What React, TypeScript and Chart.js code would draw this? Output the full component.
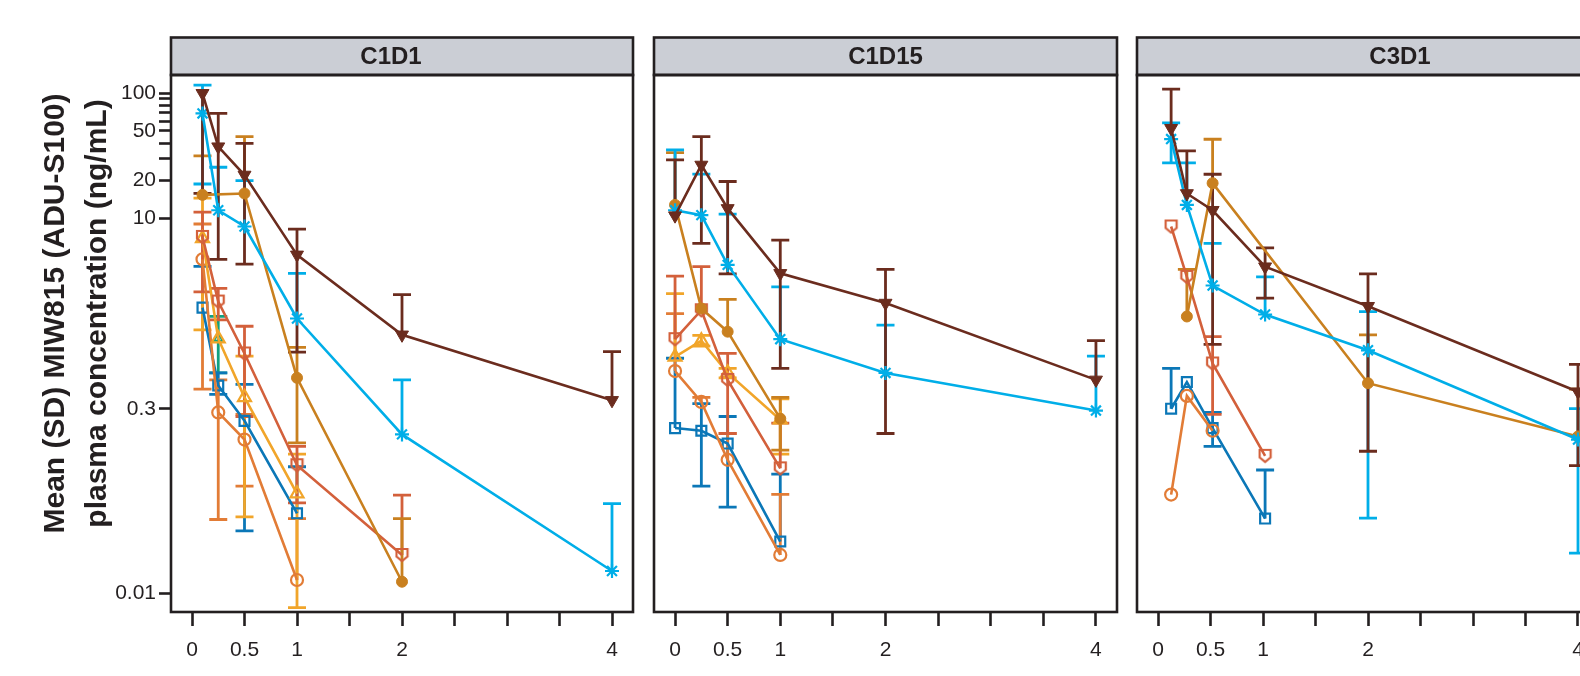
import React, { useEffect, useRef } from 'react';
import { Chart, registerables } from 'chart.js';

Chart.register(...registerables);

type Err = [number | null, number | null] | null;

// ---------- axis data ----------
const X_TICKS = [0, 0.5, 1, 1.5, 2, 2.5, 3, 3.5, 4];
const X_LABELS = ['0', '0.5', '1', '', '2', '', '', '', '4'];
const Y_TICKS = [0.01, 0.3, 10, 20, 30, 40, 50, 60, 70, 80, 90, 100];
const Y_LABELS = ['0.01', '0.3', '10', '20', '', '', '50', '', '', '', '', '100'];
const Y_MIN = 0.0071;
const Y_MAX = 140;
const X_MIN = -0.2;
const X_MAX = 4.2;
const PANEL_TITLES = ['C1D1', 'C1D15', 'C3D1'];
const Y_TITLE = ['Mean (SD) MIW815 (ADU-S100)', 'plasma concentration (ng/mL)'];

// ---------- C1D1 ----------
const TIMES_C1D1 = [0.1, 0.25, 0.5, 1, 2, 4];
const C1D1_BROWN = [100, 37.4, 22.2, 5.1, 1.17, 0.35];
const C1D1_BROWN_ERR: Err[] = [[15.8, null], [4.7, 69], [4.3, 39.8], [0.85, 8.2], [null, 2.45], [null, 0.86]];
const C1D1_CYAN = [69, 11.6, 8.6, 1.58, 0.187, 0.0151];
const C1D1_CYAN_ERR: Err[] = [[18.8, 116], [null, 25.6], [null, 20], [null, 3.63], [null, 0.51], [null, 0.0522]];
const C1D1_OCHRE = [15.4, null, 15.8, 0.53, 0.0124, null];
const C1D1_OCHRE_ERR: Err[] = [[null, 31.6], null, [null, 45], [0.16, 0.93], [null, 0.0397], null];
const C1D1_RUST = [7.1, 2.16, 0.83, 0.106, 0.0203, null];
const C1D1_RUST_ERR: Err[] = [[2.58, 11.2], [1.54, 2.75], [0.26, 1.37], [0.053, 0.15], [null, 0.061], null];
const C1D1_ORANGE = [4.7, 0.28, 0.17, 0.0128, null, null];
const C1D1_ORANGE_ERR: Err[] = [[0.43, 9.0], [0.039, 0.51], [0.072, 0.27], [null, 0.0397], null, null];
const C1D1_YELLOW = [6.9, 1.09, 0.37, 0.0627, null, null];
const C1D1_YELLOW_ERR: Err[] = [[1.28, 14.5], null, [0.041, 0.79], [0.0077, 0.13], null, null];
const C1D1_BLUE = [1.93, 0.46, 0.24, 0.0437, null, null];
const C1D1_BLUE_ERR: Err[] = [[null, 4.13], [0.39, 0.58], [0.0316, 0.47], [null, 0.103], null, null];
const C1D1_GREEN = [null, 1.1, null, null, null, null];
const C1D1_GREEN_ERR: Err[] = [null, [0.58, 1.64], null, null, null, null];

// ---------- C1D15 ----------
const TIMES_C1D15 = [0, 0.25, 0.5, 1, 2, 4];
const C1D15_BROWN = [10.5, 26.7, 12.0, 3.63, 2.1, 0.51];
const C1D15_BROWN_ERR: Err[] = [[null, 29.3], [6.3, 45], [3.6, 19.7], [0.63, 6.7], [0.19, 3.9], [null, 1.05]];
const C1D15_CYAN = [11.6, 10.6, 4.24, 1.08, 0.58, 0.29];
const C1D15_CYAN_ERR: Err[] = [[null, 35.2], [null, 22.6], [null, 10.8], [null, 2.83], [null, 1.4], [null, 0.79]];
const C1D15_OCHRE = [12.8, 1.9, 1.24, 0.25, null, null];
const C1D15_OCHRE_ERR: Err[] = [[null, 33.5], null, [null, 2.25], [0.14, 0.37], null, null];
const C1D15_RUST = [1.08, 1.84, 0.51, 0.1, null, null];
const C1D15_RUST_ERR: Err[] = [[null, 3.45], [null, 4.1], [0.19, 0.83], [null, 0.23], null, null];
const C1D15_YELLOW = [0.78, 1.05, 0.58, 0.245, null, null];
const C1D15_YELLOW_ERR: Err[] = [[null, 2.5], [0.95, 1.16], [0.53, 0.63], [0.13, 0.36], null, null];
const C1D15_ORANGE = [0.6, 0.34, 0.117, 0.0203, null, null];
const C1D15_ORANGE_ERR: Err[] = [[null, 1.73], [null, 0.37], [null, 0.19], [null, 0.062], null, null];
const C1D15_BLUE = [0.21, 0.2, 0.158, 0.026, null, null];
const C1D15_BLUE_ERR: Err[] = [[null, 0.76], [0.072, 0.33], [0.049, 0.26], [null, 0.09], null, null];

// ---------- C3D1 ----------
const TIMES_C3D1 = [0.125, 0.275, 0.52, 1.02, 2, 4];
const C3D1_BROWN = [52.5, 15.8, 11.6, 4.1, 1.98, 0.41];
const C3D1_BROWN_ERR: Err[] = [[null, 108], [null, 34.6], [0.98, 22.5], [2.3, 5.8], [0.137, 3.6], [0.105, 0.68]];
const C3D1_CYAN = [43, 12.8, 2.9, 1.7, 0.88, 0.17];
const C3D1_CYAN_ERR: Err[] = [[27.8, 58], [null, 27.8], [null, 6.3], [null, 3.4], [0.04, 1.79], [0.021, 0.3]];
const C3D1_OCHRE = [null, 1.64, 19.1, null, 0.48, 0.18];
const C3D1_OCHRE_ERR: Err[] = [null, [null, 3.9], [null, 42.9], null, [null, 1.17], [null, 0.43]];
const C3D1_RUST = [8.6, 3.4, 0.69, 0.126, null, null];
const C3D1_RUST_ERR: Err[] = [null, null, [0.27, 1.13], null, null, null];
const C3D1_BLUE = [0.3, 0.49, 0.21, 0.0397, null, null];
const C3D1_BLUE_ERR: Err[] = [[null, 0.63], null, [0.15, 0.28], [null, 0.097], null, null];
const C3D1_ORANGE = [0.0617, 0.38, 0.2, null, null, null];
const C3D1_ORANGE_ERR: Err[] = [null, null, null, null, null, null];

// ---------- styles ----------
const INK = '#231f20';
const FONT = '"Liberation Sans", Arial, Helvetica, sans-serif';
const C_BROWN = '#6b2c1e';
const C_CYAN = '#00aee8';
const C_OCHRE = '#c9801f';
const C_RUST = '#d3603b';
const C_ORANGE = '#e27c36';
const C_YELLOW = '#f1a52a';
const C_BLUE = '#0b77b7';
const C_GREEN = '#11a07f';

function makeShield(color: string): HTMLCanvasElement {
  const c = document.createElement('canvas');
  c.width = 15;
  c.height = 16;
  const g = c.getContext('2d')!;
  g.strokeStyle = color;
  g.lineWidth = 2.2;
  g.lineJoin = 'miter';
  g.beginPath();
  g.moveTo(2, 2);
  g.lineTo(13, 2);
  g.lineTo(13, 9.5);
  g.lineTo(7.5, 14);
  g.lineTo(2, 9.5);
  g.closePath();
  g.stroke();
  return c;
}

type Kind = 'brown' | 'cyan' | 'ochre' | 'rust' | 'yellow' | 'orange' | 'blue' | 'green';

function styleFor(kind: Kind): any {
  switch (kind) {
    case 'brown':
      return { color: C_BROWN, pointStyle: 'triangle', pointRotation: 180, radius: 7.5, fill: C_BROWN, bw: 1 };
    case 'cyan':
      return { color: C_CYAN, pointStyle: 'star', pointRotation: 0, radius: 7, fill: 'transparent', bw: 2.2 };
    case 'ochre':
      return { color: C_OCHRE, pointStyle: 'circle', pointRotation: 0, radius: 5.5, fill: C_OCHRE, bw: 1 };
    case 'rust':
      return { color: C_RUST, pointStyle: 'shield', pointRotation: 0, radius: 7, fill: 'transparent', bw: 2.2 };
    case 'yellow':
      return { color: C_YELLOW, pointStyle: 'triangle', pointRotation: 0, radius: 7.5, fill: 'transparent', bw: 2.2 };
    case 'orange':
      return { color: C_ORANGE, pointStyle: 'circle', pointRotation: 0, radius: 6, fill: 'transparent', bw: 2.2 };
    case 'blue':
      return { color: C_BLUE, pointStyle: 'rect', pointRotation: 0, radius: 7, fill: 'transparent', bw: 2.2 };
    default:
      return { color: C_GREEN, pointStyle: 'triangle', pointRotation: 0, radius: 5, fill: 'transparent', bw: 2 };
  }
}

type Series = { kind: Kind; mean: (number | null)[]; err: Err[] };
type Panel = {
  title: string;
  titleShift: number;
  times: number[];
  series: Series[];
  left: number;
  width: number;
  padLeft: number;
  padRight: number;
  showY: boolean;
};

const PANELS: Panel[] = [
  {
    title: PANEL_TITLES[0],
    titleShift: -11,
    times: TIMES_C1D1,
    left: 0,
    width: 645,
    padLeft: 0,
    padRight: 12,
    showY: true,
    series: [
      { kind: 'brown', mean: C1D1_BROWN, err: C1D1_BROWN_ERR },
      { kind: 'cyan', mean: C1D1_CYAN, err: C1D1_CYAN_ERR },
      { kind: 'ochre', mean: C1D1_OCHRE, err: C1D1_OCHRE_ERR },
      { kind: 'rust', mean: C1D1_RUST, err: C1D1_RUST_ERR },
      { kind: 'yellow', mean: C1D1_YELLOW, err: C1D1_YELLOW_ERR },
      { kind: 'orange', mean: C1D1_ORANGE, err: C1D1_ORANGE_ERR },
      { kind: 'blue', mean: C1D1_BLUE, err: C1D1_BLUE_ERR },
      { kind: 'green', mean: C1D1_GREEN, err: C1D1_GREEN_ERR },
    ],
  },
  {
    title: PANEL_TITLES[1],
    titleShift: 0,
    times: TIMES_C1D15,
    left: 640,
    width: 490,
    padLeft: 14,
    padRight: 13,
    showY: false,
    series: [
      { kind: 'brown', mean: C1D15_BROWN, err: C1D15_BROWN_ERR },
      { kind: 'cyan', mean: C1D15_CYAN, err: C1D15_CYAN_ERR },
      { kind: 'ochre', mean: C1D15_OCHRE, err: C1D15_OCHRE_ERR },
      { kind: 'rust', mean: C1D15_RUST, err: C1D15_RUST_ERR },
      { kind: 'yellow', mean: C1D15_YELLOW, err: C1D15_YELLOW_ERR },
      { kind: 'orange', mean: C1D15_ORANGE, err: C1D15_ORANGE_ERR },
      { kind: 'blue', mean: C1D15_BLUE, err: C1D15_BLUE_ERR },
    ],
  },
  {
    title: PANEL_TITLES[2],
    titleShift: 32,
    times: TIMES_C3D1,
    left: 1120,
    width: 495,
    padLeft: 17,
    padRight: 16,
    showY: false,
    series: [
      { kind: 'brown', mean: C3D1_BROWN, err: C3D1_BROWN_ERR },
      { kind: 'cyan', mean: C3D1_CYAN, err: C3D1_CYAN_ERR },
      { kind: 'ochre', mean: C3D1_OCHRE, err: C3D1_OCHRE_ERR },
      { kind: 'rust', mean: C3D1_RUST, err: C3D1_RUST_ERR },
      { kind: 'orange', mean: C3D1_ORANGE, err: C3D1_ORANGE_ERR },
      { kind: 'blue', mean: C3D1_BLUE, err: C3D1_BLUE_ERR },
    ],
  },
];

function labelFor(ticks: number[], labels: string[], v: number): string {
  for (let i = 0; i < ticks.length; i++) {
    if (Math.abs(ticks[i] - v) <= Math.abs(ticks[i]) * 1e-6 + 1e-9) return labels[i];
  }
  return '';
}

function PanelChart({ panel }: { panel: Panel }) {
  const ref = useRef<HTMLCanvasElement | null>(null);
  useEffect(() => {
    if (!ref.current) return;
    const shield = makeShield(C_RUST);
    const datasets = panel.series.map((s) => {
      const st = styleFor(s.kind);
      const data: { x: number; y: number }[] = [];
      panel.times.forEach((t, i) => {
        const m = s.mean[i];
        if (m != null) data.push({ x: t, y: m });
      });
      return {
        label: s.kind,
        data,
        borderColor: st.color,
        backgroundColor: st.fill,
        borderWidth: 2.6,
        pointStyle: st.pointStyle === 'shield' ? shield : st.pointStyle,
        pointRotation: st.pointRotation,
        pointRadius: st.radius,
        pointBorderWidth: st.bw,
        pointBorderColor: st.color,
        pointBackgroundColor: st.fill,
        tension: 0,
        fill: false,
        _err: s.err,
        _times: panel.times,
        _color: st.color,
      } as any;
    });

    const errorBars = {
      id: 'errorBars',
      beforeDatasetsDraw(chart: any) {
        const { ctx, chartArea, scales } = chart;
        ctx.save();
        ctx.beginPath();
        ctx.rect(chartArea.left, chartArea.top, chartArea.right - chartArea.left, chartArea.bottom - chartArea.top);
        ctx.clip();
        ctx.lineWidth = 2.8;
        for (let d = chart.data.datasets.length - 1; d >= 0; d--) {
          const ds = chart.data.datasets[d] as any;
          const errs: Err[] = ds._err;
          ctx.strokeStyle = ds._color;
          errs.forEach((e, i) => {
            if (!e) return;
            const mean = panel.series[d].mean[i];
            if (mean == null) return;
            const x = scales.x.getPixelForValue(ds._times[i]);
            const ym = scales.y.getPixelForValue(mean);
            const [lo, hi] = e;
            const yTop = hi != null ? scales.y.getPixelForValue(hi) : ym;
            const yBot = lo != null ? scales.y.getPixelForValue(lo) : ym;
            const hw = 9;
            ctx.beginPath();
            ctx.moveTo(x, yTop);
            ctx.lineTo(x, yBot);
            if (hi != null) {
              ctx.moveTo(x - hw, yTop);
              ctx.lineTo(x + hw, yTop);
            }
            if (lo != null) {
              ctx.moveTo(x - hw, yBot);
              ctx.lineTo(x + hw, yBot);
            }
            ctx.stroke();
          });
        }
        ctx.restore();
      },
    };

    const frame = {
      id: 'frame',
      afterDraw(chart: any) {
        const { ctx, chartArea } = chart;
        const l = chartArea.left;
        const r = chartArea.right;
        const t = chartArea.top;
        const b = chartArea.bottom;
        const stripTop = 37.5;
        ctx.save();
        ctx.fillStyle = '#cbced5';
        ctx.fillRect(l, stripTop, r - l, t - stripTop);
        ctx.strokeStyle = INK;
        ctx.lineWidth = 2.6;
        ctx.strokeRect(l, stripTop, r - l, t - stripTop);
        ctx.strokeRect(l, t, r - l, b - t);
        ctx.fillStyle = INK;
        ctx.font = `bold 24px ${FONT}`;
        ctx.textAlign = 'center';
        ctx.textBaseline = 'middle';
        ctx.fillText(panel.title, (l + r) / 2 + panel.titleShift, (stripTop + t) / 2 + 1);
        if (panel.showY) {
          ctx.save();
          ctx.translate(55.5, 313.5);
          ctx.rotate(-Math.PI / 2);
          ctx.font = `bold 30px ${FONT}`;
          ctx.fillText(Y_TITLE[0], 0, 0);
          ctx.fillText(Y_TITLE[1], 0, 42);
          ctx.restore();
        }
        ctx.restore();
      },
    };

    const chart = new Chart(ref.current, {
      type: 'line',
      data: { datasets },
      options: {
        animation: false,
        responsive: false,
        maintainAspectRatio: false,
        devicePixelRatio: 1,
        layout: { padding: { top: 75, bottom: 0, left: panel.padLeft, right: panel.padRight } },
        plugins: { legend: { display: false }, tooltip: { enabled: false }, title: { display: false } },
        scales: {
          x: {
            type: 'linear',
            min: X_MIN,
            max: X_MAX,
            afterBuildTicks: (s: any) => {
              s.ticks = X_TICKS.map((v) => ({ value: v }));
            },
            afterFit: (s: any) => {
              s.height = 64;
            },
            ticks: {
              autoSkip: false,
              maxRotation: 0,
              padding: 12,
              color: INK,
              font: { family: FONT, size: 21 },
              callback: (v: any) => labelFor(X_TICKS, X_LABELS, Number(v)),
            },
            grid: { drawOnChartArea: false, drawTicks: true, tickLength: 14, tickWidth: 2.6, tickColor: INK },
            border: { display: false },
          },
          y: {
            type: 'logarithmic',
            min: Y_MIN,
            max: Y_MAX,
            display: panel.showY,
            afterBuildTicks: (s: any) => {
              s.ticks = Y_TICKS.map((v) => ({ value: v }));
            },
            afterFit: (s: any) => {
              s.width = panel.showY ? 171 : 0;
            },
            ticks: {
              autoSkip: false,
              padding: 3,
              color: INK,
              font: { family: FONT, size: 21 },
              callback: (v: any) => labelFor(Y_TICKS, Y_LABELS, Number(v)),
            },
            grid: { drawOnChartArea: false, drawTicks: true, tickLength: 12, tickWidth: 2.6, tickColor: INK },
            border: { display: false },
          },
        },
      } as any,
      plugins: [errorBars, frame],
    });
    return () => chart.destroy();
  }, [panel]);

  return (
    <div style={{ position: 'absolute', left: panel.left, top: 0, width: panel.width, height: 676 }}>
      <canvas ref={ref} width={panel.width} height={676} style={{ width: panel.width, height: 676, display: 'block' }} />
    </div>
  );
}

export default function App() {
  return (
    <div
      style={{
        position: 'fixed',
        left: 0,
        top: 0,
        width: 1580,
        height: 676,
        overflow: 'hidden',
        background: '#ffffff',
      }}
    >
      {PANELS.map((p) => (
        <PanelChart key={p.title} panel={p} />
      ))}
    </div>
  );
}
